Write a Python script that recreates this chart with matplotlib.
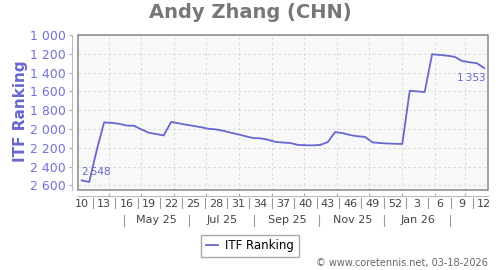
"""
Andy Zhang (CHN) 的 ITF 排名走勢圖（每週一點，2025 第 10 週至 2026 第 12 週）。
"""
import datetime as dt

import matplotlib
matplotlib.use("Agg")
import matplotlib.pyplot as plt
import matplotlib.transforms as mtransforms
from matplotlib.patches import Rectangle

# ---- 資料 ----
ranking = [
    2548, 2565, 2230, 1931, 1935, 1945, 1964, 1966, 2005, 2040,
    2055, 2069, 1925, 1940, 1955, 1968, 1982, 1998, 2005, 2020,
    2040, 2058, 2078, 2097, 2100, 2115, 2138, 2145, 2150, 2170,
    2173, 2175, 2170, 2140, 2033, 2045, 2065, 2078, 2085, 2143,
    2150, 2155, 2158, 2160, 1595, 1600, 1608, 1205, 1212, 1220,
    1232, 1276, 1290, 1300, 1353,
]
week_labels = ["10", "13", "16", "19", "22", "25", "28", "31", "34", "37",
               "40", "43", "46", "49", "52", "3", "6", "9", "12"]
month_labels = ["May 25", "Jul 25", "Sep 25", "Nov 25", "Jan 26"]
y_ticks = [1000, 1200, 1400, 1600, 1800, 2000, 2200, 2400, 2600]

BLUE = "#6767cf"
START = dt.date(2025, 3, 3)  # 第 10 週的週一


def wpos(d):
    """日期 -> 週索引座標（點畫在週中央）。"""
    return (d - START).days / 7 - 0.5


fig = plt.figure(figsize=(5, 2.7), dpi=100)
ax = fig.add_axes([0.156, 0.2963, 0.82, 0.5741])
ax.set_facecolor("#f8f8f8")

x = list(range(len(ranking)))
ax.plot(x, ranking, color=BLUE, lw=1.3, label="ITF Ranking", zorder=4)
ax.set_xlim(-0.5, len(ranking) - 0.5)
ax.set_ylim(2650, 1000)

# ---- y 軸 ----
ax.set_yticks(y_ticks)
ax.set_yticklabels([f"{v:,}".replace(",", " ") for v in y_ticks])
ax.tick_params(axis="y", direction="out", length=2, width=0.8,
               color="#aaaaaa", pad=3, labelcolor="#7272d4", labelsize=9)

# ---- x 軸：月份格線 ----
months = [dt.date(2025 + (m - 1) // 12, (m - 1) % 12 + 1, 1) for m in range(4, 16)]
ax.set_xticks([wpos(d) for d in months])
ax.set_xticklabels([])
ax.tick_params(axis="x", direction="in", length=2, width=0.8, color="#aaaaaa")

ax.grid(True, color="#d4d4d4", lw=0.6, linestyle=(0, (3, 3)))
ax.set_axisbelow(True)

for side in ("left", "bottom"):
    ax.spines[side].set_position(("outward", 4))
    ax.spines[side].set_color("#bbbbbb")
for side in ("top", "right"):
    ax.spines[side].set_visible(False)
ax.add_patch(Rectangle((0, 0), 1, 1, transform=ax.transAxes, fill=False,
                       edgecolor="#888888", lw=1.1, zorder=5, clip_on=False))

# 週標籤與分隔線
trans = mtransforms.blended_transform_factory(ax.transData, ax.transAxes)
for i, lab in enumerate(week_labels):
    ax.text(i * 3, -0.092, lab, transform=trans, ha="center", va="center",
            fontsize=8, color="#444444")
    if i < len(week_labels) - 1:
        xp = i * 3 + 1.5
        ax.plot([xp, xp], [-0.052, -0.119], transform=trans, color="#999999",
                lw=0.8, clip_on=False)

# 月份標籤（兩個月一格）
for i, lab in enumerate(month_labels):
    mid = dt.date(2025 + (5 + 2 * i - 1) // 12, (5 + 2 * i - 1) % 12 + 1, 16)
    ax.text(wpos(mid), -0.194, lab, transform=trans, ha="center", va="center",
            fontsize=8, color="#444444")
seps = [dt.date(2025 + (m - 1) // 12, (m - 1) % 12 + 1, 15) for m in range(4, 15, 2)]
for d in seps:
    ax.plot([wpos(d)] * 2, [-0.16, -0.231], transform=trans, color="#999999",
            lw=0.8, clip_on=False)

# 首尾數值標註
ax.annotate(f"{ranking[0]:,}".replace(",", "\u2009"), (x[0], ranking[0]),
            xytext=(0, 8.5), textcoords="offset pixels", ha="left", va="center",
            fontsize=7.5, color=BLUE)
ax.annotate(f"{ranking[-1]:,}".replace(",", "\u2009"), (x[-1], ranking[-1]),
            xytext=(1, -9.5), textcoords="offset pixels", ha="right", va="center",
            fontsize=7.5, color=BLUE)

# ---- 文字 ----
fig.text(0.5, 1 - 13 / 270, "Andy Zhang (CHN)", ha="center", va="center",
         fontsize=14, fontweight="bold", color="#777777")
fig.text(0.042, 1 - 111 / 270, "ITF Ranking", rotation=90, ha="center",
         va="center", fontsize=11, fontweight="bold", color=BLUE)
fig.legend(loc="center", bbox_to_anchor=(0.5, 0.089), fontsize=8.5,
           fancybox=False, edgecolor="#aaaaaa", framealpha=1,
           handlelength=1.0, borderpad=0.4, handletextpad=0.6)
fig.text(0.976, 0.026, "© www.coretennis.net, 03-18-2026", ha="right",
         va="center", fontsize=7, color="#666666")

plt.savefig("out.png", dpi=100)
plt.close()
